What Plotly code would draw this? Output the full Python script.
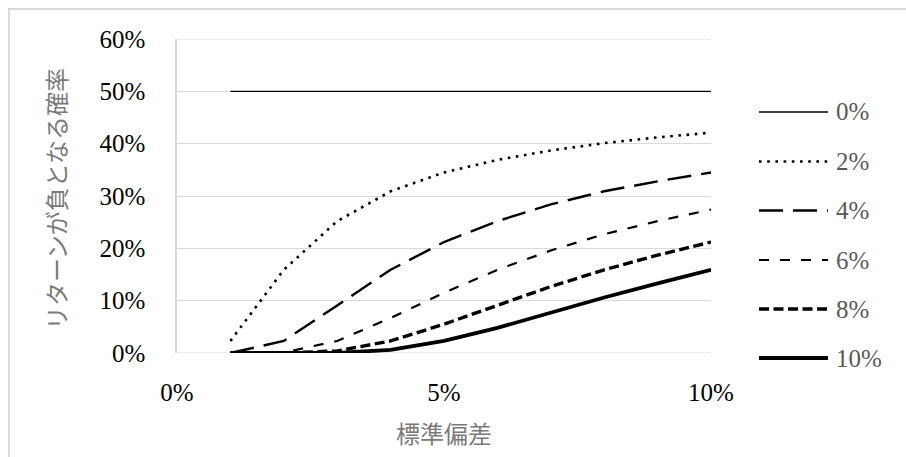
import plotly.graph_objects as go

# Standard deviation (x) and probability of a negative return (y), per expected return
std_dev = [0.01, 0.02, 0.03, 0.04, 0.05, 0.06, 0.07, 0.08, 0.09, 0.10]
series_names = ["0%", "2%", "4%", "6%", "8%", "10%"]
p_ret_0 = [0.500, 0.500, 0.500, 0.500, 0.500, 0.500, 0.500, 0.500, 0.500, 0.500]
p_ret_2 = [0.023, 0.159, 0.252, 0.309, 0.345, 0.369, 0.387, 0.401, 0.412, 0.421]
p_ret_4 = [0.000, 0.023, 0.091, 0.159, 0.212, 0.252, 0.284, 0.309, 0.328, 0.345]
p_ret_6 = [0.000, 0.001, 0.023, 0.067, 0.115, 0.159, 0.196, 0.227, 0.252, 0.274]
p_ret_8 = [0.000, 0.000, 0.004, 0.023, 0.055, 0.091, 0.127, 0.159, 0.187, 0.212]
p_ret_10 = [0.000, 0.000, 0.000, 0.006, 0.023, 0.048, 0.077, 0.106, 0.133, 0.159]
x_ticks = [0, 0.05, 0.10]
y_ticks = [0, 0.1, 0.2, 0.3, 0.4, 0.5, 0.6]

all_series = [p_ret_0, p_ret_2, p_ret_4, p_ret_6, p_ret_8, p_ret_10]

# line style per series: (width, dash)
styles = [
    (1.4, "solid"),
    (2.6, "2.6px,5.6px"),
    (2.4, "24px,10px"),
    (2.2, "10px,11px"),
    (3.4, "10px,4.5px"),
    (3.8, "solid"),
]

NUM_FONT = "Liberation Serif"
JP_FONT = "Noto Sans CJK JP"
GRID = "#d9d9d9"

W, H = 906, 457
L, R, T, B = 177, 195, 39, 104
PW, PH = W - L - R, H - T - B


def px_x(px):
    return (px - L) / PW


def px_y(py):
    return (H - B - py) / PH


fig = go.Figure()
for name, vals, (w, d) in zip(series_names, all_series, styles):
    fig.add_trace(go.Scatter(
        x=std_dev, y=vals, name=name, mode="lines",
        line=dict(color="black", width=w, dash=d),
        showlegend=False,
    ))

shapes = []
annotations = []

# outer chart frame
shapes.append(dict(type="rect", xref="paper", yref="paper",
                   x0=px_x(9), x1=px_x(920), y0=px_y(470), y1=px_y(9),
                   line=dict(color=GRID, width=2), layer="below"))

# gridlines at the bottom and top edges of the value axis
for yv in (y_ticks[0], y_ticks[-1]):
    shapes.append(dict(type="line", xref="paper", yref="y", x0=0, x1=1, y0=yv, y1=yv,
                       line=dict(color=GRID, width=1.2), layer="below"))

# legend drawn at the right of the plot
legend_rows = [112, 161.5, 210.5, 260, 309, 358]
for name, (w, d), yy in zip(series_names, styles, legend_rows):
    shapes.append(dict(type="line", xref="paper", yref="paper",
                       x0=px_x(759), x1=px_x(828), y0=px_y(yy), y1=px_y(yy),
                       line=dict(color="black", width=w, dash=d)))
    annotations.append(dict(xref="paper", yref="paper", x=px_x(834), y=px_y(yy),
                            xanchor="left", yanchor="middle", showarrow=False,
                            text=name, font=dict(family=NUM_FONT, size=25, color="#595959")))

# axis titles
annotations.append(dict(xref="paper", yref="paper", x=0.5, y=px_y(432),
                        xanchor="center", yanchor="middle", showarrow=False,
                        text="標準偏差", font=dict(family=JP_FONT, size=24, color="#7a7a7a")))
annotations.append(dict(xref="paper", yref="paper", x=px_x(55), y=px_y(199),
                        xanchor="center", yanchor="middle", showarrow=False, textangle=-90,
                        text="リターンが負となる確率", font=dict(family=JP_FONT, size=24, color="#7a7a7a")))

fig.update_layout(
    width=W, height=H,
    margin=dict(l=L, r=R, t=T, b=B),
    paper_bgcolor="white", plot_bgcolor="white",
    shapes=shapes, annotations=annotations,
    xaxis=dict(range=[0, 0.10], tickvals=x_ticks, tickformat=".0%",
               showgrid=False, zeroline=False, showline=False,
               ticks="", ticklabelstandoff=22,
               tickfont=dict(family=NUM_FONT, size=25, color="black")),
    yaxis=dict(range=[0, 0.6], tickvals=y_ticks, tickformat=".0%",
               showgrid=True, gridcolor=GRID, gridwidth=1.2,
               zeroline=False, showline=True, linecolor=GRID, linewidth=1.5,
               ticks="", ticklabelstandoff=25,
               tickfont=dict(family=NUM_FONT, size=25, color="black")),
)

fig.write_html("out.html")
